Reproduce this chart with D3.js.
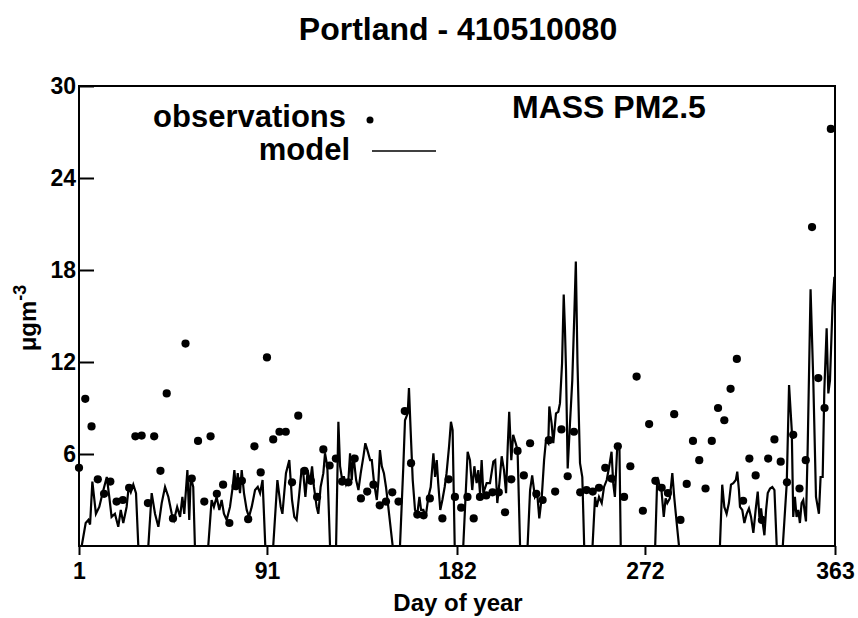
<!DOCTYPE html>
<html>
<head>
<meta charset="utf-8">
<script src="https://cdn.jsdelivr.net/npm/d3@7"></script>
<style>
  html, body { margin: 0; padding: 0; background: #fff; }
  svg { display: block; }
  text { font-family: "Liberation Sans", Arial, Helvetica, sans-serif; font-weight: bold; fill: #000; }
</style>
</head>
<body>
<script>
// ---- data ----
const title = "Portland - 410510080";
const species = "MASS PM2.5";
const xTickValues = [1, 91, 182, 272, 363];
const yTickValues = [6, 12, 18, 24, 30];

const obsDays = [1,4,7,10,13,16,19,22,25,28,31,34,37,40,43,46,52,55,58,61,64,67,70,73,76,79,82,85,88,91,
  94,97,100,103,106,109,112,115,118,121,124,127,130,133,136,139,142,145,148,151,154,157,160,163,166,169,
  175,178,181,184,187,190,193,196,199,202,205,208,211,214,217,220,223,226,229,232,235,238,241,244,247,250,
  253,256,259,262,265,268,271,274,277,280,283,286,289,292,295,298,301,304,307,310,313,316,319,322,325,328,
  331,334,337,340,343,346,349,352,355,358,361];
const obsValues = [5.1,9.6,7.8,4.35,3.4,4.2,2.9,3.0,3.8,7.15,7.2,2.8,7.15,4.9,9.95,1.8,13.2,4.4,6.85,2.9,
  7.15,3.4,4.0,1.5,3.9,4.25,1.75,6.5,4.8,12.3,
  6.95,7.45,7.45,4.15,8.5,4.9,4.25,3.2,6.3,5.25,5.7,4.2,4.15,5.7,3.1,3.55,4.0,2.65,2.9,3.5,2.9,8.8,5.4,2.05,2.0,3.1,
  1.8,4.35,3.2,2.5,3.2,1.8,3.2,3.3,3.5,3.5,2.2,4.35,6.2,4.6,6.7,3.4,3.0,6.9,3.55,7.6,4.55,7.45,3.5,3.65,3.55,3.8,
  5.1,4.4,6.5,3.2,5.2,11.05,2.3,7.95,4.25,3.8,3.45,8.6,1.7,4.05,6.85,5.6,3.75,6.85,9.0,8.2,10.25,12.2,2.95,5.7,4.6,1.7,
  5.7,6.95,5.5,4.15,7.25,3.75,5.6,20.8,10.95,9.0,27.2];

const modelDays = [1.0,2.3,4.2,5.5,6.3,7.4,9.1,10.7,12.3,14.3,15.5,16.6,18.2,19.8,21.0,22.2,23.8,24.8,25.8,27.0,28.3,29.4,
  34.2,35.8,37.4,39.0,40.6,42.2,43.8,45.4,46.5,48.0,49.4,50.5,51.4,52.9,53.8,54.5,55.7,56.5,
  62.9,64.5,65.6,66.9,68.2,69.3,70.4,71.7,73.3,74.6,75.4,76.2,77.0,78.1,78.9,80.0,81.3,82.4,83.7,85.3,86.6,87.7,88.9,90.2,
  94.0,96.0,97.6,98.4,100.1,101.7,103.0,104.1,105.2,106.5,107.6,108.4,109.4,110.5,111.6,112.6,113.5,114.8,115.6,116.7,118.0,118.8,119.9,121.2,
  124.1,125.2,126.0,126.8,127.9,128.9,130.0,130.8,131.6,132.4,133.7,134.8,135.9,137.2,138.1,139.1,140.4,141.2,142.3,143.6,144.4,145.1,146.0,147.0,148.0,149.1,151.2,
  154.7,156.3,157.1,158.4,159.0,159.8,160.8,161.9,163.0,164.0,164.8,165.9,167.0,168.3,169.4,170.7,171.5,172.3,173.0,174.0,175.0,176.1,177.0,178.2,179.1,179.9,180.9,
  185.0,187.1,188.2,189.3,190.3,191.4,192.2,193.0,193.8,194.6,196.2,197.8,199.4,200.3,201.3,202.3,203.4,204.5,205.5,206.3,207.0,208.0,208.9,210.1,211.0,212.2,
  215.8,217.0,218.0,219.3,220.4,221.4,222.6,223.7,224.6,225.7,226.2,227.3,228.1,229.4,230.5,231.3,232.3,233.1,233.7,234.2,235.0,236.1,237.2,238.2,238.9,239.7,240.9,242.0,242.9,
  246.9,248.1,248.9,250.0,251.3,252.4,253.7,254.9,256.0,256.8,257.6,258.8,259.8,260.4,
  276.9,277.9,279.2,279.9,281.0,281.9,282.7,283.9,285.1,286.0,287.2,288.3,
  307.9,309.0,310.0,311.1,312.2,313.2,314.3,315.5,316.2,317.0,317.5,318.6,319.6,320.7,321.8,322.8,323.9,325.0,326.0,326.8,327.6,328.4,329.2,330.0,330.8,331.9,333.0,334.0,335.1,
  338.0,339.9,341.0,342.3,343.0,343.8,344.6,345.4,346.2,347.0,347.8,348.6,349.1,349.9,351.3,352.6,353.9,355.3,356.1,357.1,357.9,359.0,359.8,360.6,361.8,362.7];
const modelValues = [0,0,1.5,1.7,1.4,4.2,2.1,2.55,3.45,4.5,3.2,1.9,2.1,1.25,2.35,1.5,2.55,3.85,3.5,4.0,3.45,0,
  0,3.45,2.1,1.25,2.8,3.85,3.2,2.1,1.7,2.55,1.9,3.2,2.1,4.95,1.7,4.5,3.85,0,
  0,3.0,2.55,3.2,2.35,3.0,2.1,1.7,2.55,3.85,4.95,3.65,4.75,3.45,4.95,3.45,2.35,1.9,2.55,3.65,3.85,3.45,4.3,0,
  0,4.3,2.55,2.1,4.75,5.6,3.0,1.9,1.7,3.45,5.05,4.75,3.2,4.95,4.1,5.2,3.85,2.55,2.1,3.85,4.75,6.05,5.2,0,
  0,8.1,5.2,4.5,4.5,4.0,4.3,6.05,4.3,5.95,4.3,3.65,4.75,5.85,6.7,6.25,5.6,5.6,4.1,3.0,4.3,6.25,5.2,4.75,3.85,2.55,0,
  0,5.2,8.2,8.65,10.3,7.55,4.3,2.35,2.1,3.2,2.35,2.35,1.9,3.2,3.85,6.05,4.5,5.6,4.1,2.35,3.0,3.85,4.75,6.5,8.1,7.55,0,
  0,6.15,5.6,3.65,5.2,4.1,4.95,3.45,5.6,3.45,4.1,4.1,5.5,5.6,2.8,4.1,5.85,4.95,3.45,6.5,8.75,5.6,7.25,6.7,6.25,0,
  0,3.65,4.6,3.2,3.45,1.8,3.2,5.6,6.9,6.7,9.1,8.0,6.7,8.65,8.75,9.3,11.9,16.4,14.1,11.5,5.05,8.0,10.8,15.2,18.55,11.9,5.4,4.5,0,
  0,3.2,2.55,3.2,2.8,3.85,4.3,5.2,6.15,4.1,3.2,6.7,6.25,0,
  0,4.5,3.85,3.65,1.9,3.1,2.8,3.1,4.75,3.2,1.5,0,
  0,4.0,2.55,2.1,2.8,4.0,4.1,4.3,4.85,3.65,2.55,2.35,1.5,2.1,2.45,1.9,0.85,2.35,3.55,1.9,2.45,1.5,0.7,2.35,3.45,3.75,3.85,3.65,0,
  0,4.1,10.5,7.55,1.9,3.2,1.9,2.35,1.5,2.8,3.0,2.1,1.6,6.25,16.75,10.8,3.2,2.1,4.5,4.5,10.2,14.2,9.95,10.8,15.6,17.55];

// ---- layout ----
const W = 858, H = 618;
const plot = { left: 79, right: 835, top: 86, bottom: 546 };
const FONT = "'Liberation Sans', Arial, Helvetica, sans-serif";

const svg = d3.select("body").append("svg").attr("width", W).attr("height", H);

const x = d3.scaleLinear().domain([1, 363]).range([plot.left, plot.right]);
const y = d3.scaleLinear().domain([0, 30]).range([plot.bottom, plot.top]);

// title
svg.append("text").attr("x", 458).attr("y", 40).attr("text-anchor", "middle")
  .style("font-size", "32px").text(title);

// model line
const model = modelDays.map((d, i) => [d, modelValues[i]]);
svg.append("path").datum(model)
  .attr("fill", "none").attr("stroke", "#000").attr("stroke-width", 2.2).attr("stroke-linejoin", "miter")
  .attr("d", d3.line().x(d => x(d[0])).y(d => y(d[1])));

// observations
const obs = obsDays.map((d, i) => [d, obsValues[i]]);
svg.append("g").selectAll("circle").data(obs).join("circle")
  .attr("cx", d => x(d[0])).attr("cy", d => y(d[1])).attr("r", 4.1).attr("fill", "#000");

// frame
svg.append("rect").attr("x", plot.left).attr("y", plot.top)
  .attr("width", plot.right - plot.left).attr("height", plot.bottom - plot.top)
  .attr("fill", "none").attr("stroke", "#000").attr("stroke-width", 2);

// x axis
const xAxis = svg.append("g").attr("transform", `translate(0,${plot.bottom})`)
  .call(d3.axisBottom(x).tickValues(xTickValues).tickSize(9).tickPadding(8).tickFormat(d3.format("d")));
xAxis.select(".domain").remove();
xAxis.selectAll(".tick line").attr("stroke", "#000").attr("stroke-width", 2);
xAxis.selectAll(".tick text").style("font-size", "23px").attr("fill", "#000")
  .style("font-family", FONT).style("font-weight", "bold");

// y axis
const yAxis = svg.append("g").attr("transform", `translate(${plot.left},0)`)
  .call(d3.axisLeft(y).tickValues(yTickValues).tickSizeInner(-15).tickSizeOuter(0).tickPadding(3).tickFormat(d3.format("d")));
yAxis.select(".domain").remove();
yAxis.selectAll(".tick line").attr("stroke", "#000").attr("stroke-width", 2);
yAxis.selectAll(".tick text").style("font-size", "23px").attr("fill", "#000")
  .style("font-family", FONT).style("font-weight", "bold");

// axis titles
svg.append("text").attr("x", 458).attr("y", 611).attr("text-anchor", "middle")
  .style("font-size", "24px").text("Day of year");

const yl = svg.append("text").attr("transform", "translate(36,318) rotate(-90)")
  .attr("text-anchor", "middle").style("font-size", "24px");
yl.append("tspan").text("\u03BCgm");
yl.append("tspan").attr("dy", -10).style("font-size", "18px").text("-3");

// legend
svg.append("text").attr("x", 346).attr("y", 127).attr("text-anchor", "end")
  .style("font-size", "31px").text("observations");
svg.append("circle").attr("cx", 370).attr("cy", 120).attr("r", 3.5).attr("fill", "#000");
svg.append("text").attr("x", 350).attr("y", 160).attr("text-anchor", "end")
  .style("font-size", "31px").text("model");
svg.append("line").attr("x1", 372).attr("x2", 436).attr("y1", 151).attr("y2", 151)
  .attr("stroke", "#000").attr("stroke-width", 1.5);

svg.append("text").attr("x", 512).attr("y", 118).style("font-size", "32px").text(species);
</script>
</body>
</html>
